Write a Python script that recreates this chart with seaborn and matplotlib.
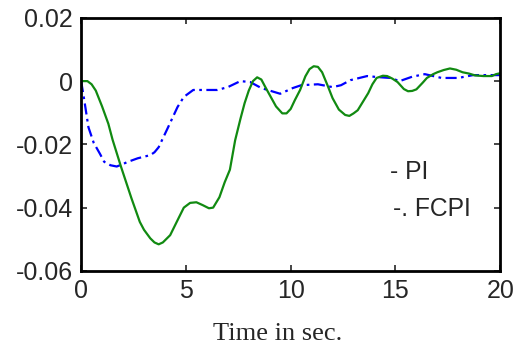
import matplotlib
matplotlib.use('Agg')
import matplotlib.pyplot as plt
import pandas as pd
import seaborn as sns

# PI response (solid green)
t_pi = [0, 0.3, 0.5, 0.7, 1.0, 1.3, 1.5, 1.9, 2.4, 2.8, 3.0, 3.3, 3.5, 3.7, 3.9, 4.25, 4.6,
        4.9, 5.2, 5.5, 5.8, 6.1, 6.3, 6.6, 6.85, 7.1, 7.35, 7.6, 7.8, 8.0, 8.2, 8.4, 8.6,
        8.8, 9.0, 9.3, 9.6, 9.8, 10.0, 10.2, 10.45, 10.7, 10.9, 11.1, 11.3, 11.5, 11.75,
        12.0, 12.3, 12.6, 12.8, 13.0, 13.2, 13.45, 13.7, 13.9, 14.1, 14.4, 14.6, 14.85,
        15.1, 15.4, 15.6, 15.8, 16.0, 16.3, 16.5, 16.8, 17.0, 17.3, 17.6, 17.9, 18.2, 18.5,
        18.8, 19.2, 19.6, 19.8, 20.0]
pi = [0, 0, -0.001, -0.003, -0.008, -0.0135, -0.0185, -0.027, -0.037, -0.0445, -0.047,
      -0.0497, -0.051, -0.0516, -0.051, -0.0487, -0.044, -0.040, -0.0385, -0.0383, -0.0392,
      -0.0402, -0.040, -0.0367, -0.032, -0.028, -0.0187, -0.012, -0.007, -0.003, 0.0,
      0.0012, 0.0005, -0.002, -0.0044, -0.008, -0.0102, -0.0102, -0.0088, -0.006, -0.0028,
      0.0015, 0.0038, 0.0047, 0.0045, 0.0028, -0.0012, -0.0054, -0.009, -0.0107, -0.011,
      -0.0102, -0.0092, -0.0065, -0.0038, -0.001, 0.001, 0.0017, 0.0016, 0.0008, -0.0003,
      -0.0025, -0.0032, -0.0031, -0.0026, -0.0005, 0.001, 0.0022, 0.0028, 0.0035, 0.004,
      0.0036, 0.0028, 0.0024, 0.0018, 0.0016, 0.0016, 0.0022, 0.0025]

# FCPI response (blue dash-dot)
t_fcpi = [0, 0.15, 0.35, 0.6, 0.9, 1.1, 1.4, 1.7, 2.0, 2.2, 2.7, 3.3, 3.5, 3.7, 4.15, 4.6,
          4.9, 5.35, 6.0, 6.5, 7.0, 7.6, 8.07, 8.6, 9.5, 10.1, 10.5, 11.3, 12.0, 12.4,
          12.85, 13.65, 14.1, 14.75, 15.2, 15.8, 16.4, 17.2, 18.0, 18.7, 19.5, 20.0]
fcpi = [0, -0.006, -0.0146, -0.0195, -0.023, -0.0255, -0.0266, -0.027, -0.0262, -0.0256,
        -0.0244, -0.0234, -0.0225, -0.0209, -0.0146, -0.0082, -0.005, -0.0028, -0.0028,
        -0.0028, -0.0019, 0.0, -0.0003, -0.0022, -0.004, -0.0022, -0.0013, -0.001, -0.0019,
        -0.0013, 0.0003, 0.0016, 0.0013, 0.001, 0.0, 0.0014, 0.0022, 0.001, 0.001, 0.0019,
        0.0019, 0.0019]

x_ticks = [0, 5, 10, 15, 20]
y_ticks = [-0.06, -0.04, -0.02, 0, 0.02]
y_labels = ['-0.06', '-0.04', '-0.02', '0', '0.02']

df_pi = pd.DataFrame({'t': t_pi, 'y': pi})
df_fc = pd.DataFrame({'t': t_fcpi, 'y': fcpi})

sns.set_style('white')
plt.rcParams['font.family'] = ['Liberation Sans', 'DejaVu Sans']

fig = plt.figure(figsize=(5.2, 3.5), dpi=100)
ax = fig.add_axes([0.156, 0.226, 0.806, 0.723])

sns.lineplot(data=df_fc, x='t', y='y', ax=ax, color='#0000ff', lw=1.6,
             linestyle=(0, (5, 2, 1.2, 2)))
sns.lineplot(data=df_pi, x='t', y='y', ax=ax, color='#118a11', lw=1.6)

ax.set_xlim(0, 20)
ax.set_ylim(-0.06, 0.02)
ax.set_xticks(x_ticks)
ax.set_xticklabels([str(v) for v in x_ticks])
ax.set_yticks(y_ticks)
ax.set_yticklabels(y_labels)
ax.tick_params(direction='in', length=4, width=1.2, labelsize=18, top=True, right=True,
               bottom=True, left=True, pad=6)
for s in ax.spines.values():
    s.set_linewidth(2)
    s.set_color('black')

ax.set_ylabel('')
ax.set_xlabel('Time in sec.', family=['Liberation Serif'], fontsize=19)
ax.xaxis.set_label_coords(0.468, -0.205)

ax.text(14.75, -0.0288, '- PI', fontsize=17.7, va='center', ha='left')
ax.text(14.9, -0.0405, '-. FCPI', fontsize=17.7, va='center', ha='left')

fig.savefig('out.png', dpi=100)
